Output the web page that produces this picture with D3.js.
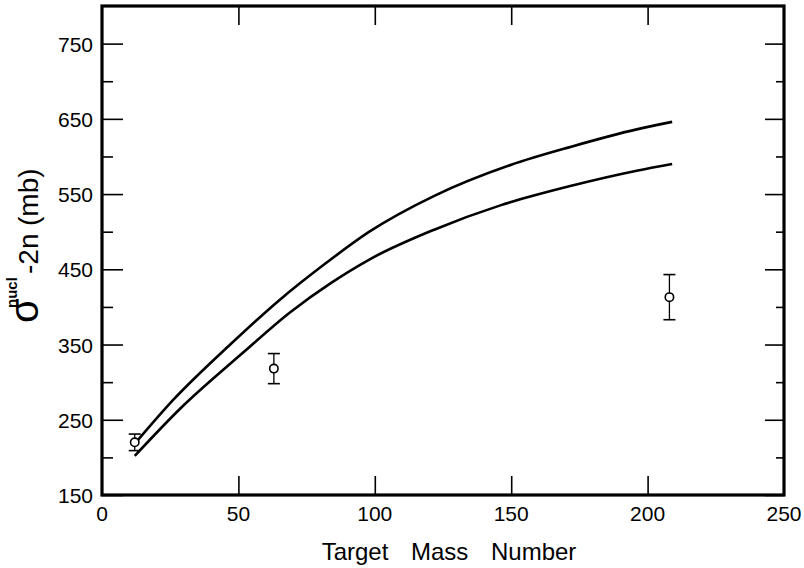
<!DOCTYPE html>
<html>
<head>
  <meta charset="utf-8">
  <title>Target Mass Number</title>
  <script src="https://d3js.org/d3.v7.min.js"></script>
  <style>
    body { margin: 0; background: white; }
    text { font-family: "Liberation Sans", Arial, sans-serif; fill: black; }
  </style>
</head>
<body>
<div id="container"></div>
<script>
  const width = 804,
    height = 568;
  const margin = { top: 6, right: 20, bottom: 72, left: 102 };

  // upper calculated curve (A, mb)
  var upperA = [12, 26, 47, 65, 82, 98, 122, 150, 172, 196, 209];
  var upperS = [218, 276, 350, 409, 458, 500, 548, 589, 613, 636, 646];
  // lower calculated curve
  var lowerA = [12, 29, 51, 69, 84, 98, 122, 146, 172, 196, 209];
  var lowerS = [202, 266, 337, 393, 432, 463, 503, 535, 561, 581, 590];
  // measured points with errors
  var measA = [12, 63, 208];
  var measS = [220, 318, 413];
  var measErr = [11, 20, 30];

  var xTicks = [0, 50, 100, 150, 200, 250];
  var yTicks = [150, 250, 350, 450, 550, 650, 750];
  var yMinor = [200, 300, 400, 500, 600, 700];

  var svg = d3.select("#container")
    .append("svg")
    .attr("width", width)
    .attr("height", height)
    .style("display", "block");

  var x = d3.scaleLinear()
    .domain([0, 250])
    .range([margin.left, width - margin.right]);

  var y = d3.scaleLinear()
    .domain([150, 800])
    .range([height - margin.bottom - 1, margin.top]);

  // ticks pointing inward
  svg.append("g")
    .attr("transform", "translate(" + x(0) + ",0)")
    .call(d3.axisRight(y).tickValues(yTicks).tickSize(21).tickFormat(""))
    .call(g => g.select(".domain").remove());
  svg.append("g")
    .attr("transform", "translate(" + x(0) + ",0)")
    .call(d3.axisRight(y).tickValues(yMinor).tickSize(11).tickFormat(""))
    .call(g => g.select(".domain").remove());
  svg.append("g")
    .attr("transform", "translate(" + x(250) + ",0)")
    .call(d3.axisLeft(y).tickValues(yTicks).tickSize(19).tickFormat(""))
    .call(g => g.select(".domain").remove());
  svg.append("g")
    .attr("transform", "translate(" + x(250) + ",0)")
    .call(d3.axisLeft(y).tickValues(yMinor).tickSize(8).tickFormat(""))
    .call(g => g.select(".domain").remove());
  svg.append("g")
    .attr("transform", "translate(0," + y(150) + ")")
    .call(d3.axisTop(x).tickValues([50, 100, 150, 200]).tickSize(19).tickFormat(""))
    .call(g => g.select(".domain").remove());
  svg.append("g")
    .attr("transform", "translate(0," + y(800) + ")")
    .call(d3.axisBottom(x).tickValues([50, 100, 150, 200]).tickSize(19).tickFormat(""))
    .call(g => g.select(".domain").remove());
  svg.selectAll(".tick line").attr("stroke", "black").attr("stroke-width", 1.6);

  // frame
  svg.append("rect")
    .attr("x", x(0))
    .attr("y", y(800))
    .attr("width", x(250) - x(0))
    .attr("height", y(150) - y(800))
    .attr("fill", "none")
    .attr("stroke", "black")
    .attr("stroke-width", 3.2);

  // tick labels
  svg.selectAll(".ylab")
    .data(yTicks)
    .enter()
    .append("text")
    .attr("class", "ylab")
    .attr("x", x(0) - 9)
    .attr("y", d => y(d) + 8)
    .attr("text-anchor", "end")
    .style("font-size", "21px")
    .text(d => d);

  svg.selectAll(".xlab")
    .data(xTicks)
    .enter()
    .append("text")
    .attr("class", "xlab")
    .attr("x", d => x(d))
    .attr("y", 521)
    .attr("text-anchor", "middle")
    .style("font-size", "21px")
    .text(d => d);

  // axis titles
  svg.append("text")
    .attr("x", 449)
    .attr("y", 560)
    .attr("text-anchor", "middle")
    .style("font-size", "24px")
    .style("word-spacing", "16px")
    .text("Target Mass Number");

  var yt = svg.append("text")
    .attr("transform", "translate(38,323) rotate(-90)")
    .style("font-size", "28px");
  yt.append("tspan").attr("x", 0).style("font-size", "40px").text("σ");
  yt.append("tspan").attr("x", 15).attr("dy", -21)
    .style("font-size", "15px").style("font-weight", "bold").text("nucl");
  yt.append("tspan").attr("x", 49).attr("dy", 21).text("-2n");
  yt.append("tspan").attr("x", 97).text("(mb)");

  // curves
  var line = d3.line()
    .x(d => x(d[0]))
    .y(d => y(d[1]))
    .curve(d3.curveMonotoneX);

  svg.append("path")
    .datum(upperA.map((a, i) => [a, upperS[i]]))
    .attr("d", line)
    .attr("fill", "none")
    .attr("stroke", "black")
    .attr("stroke-width", 2.6);

  svg.append("path")
    .datum(lowerA.map((a, i) => [a, lowerS[i]]))
    .attr("d", line)
    .attr("fill", "none")
    .attr("stroke", "black")
    .attr("stroke-width", 2.6);

  // data points with error bars
  var pts = measA.map((a, i) => ({ a: a, s: measS[i], e: measErr[i] }));
  var pg = svg.selectAll(".pt")
    .data(pts)
    .enter()
    .append("g")
    .attr("class", "pt");

  pg.append("line")
    .attr("x1", d => x(d.a)).attr("x2", d => x(d.a))
    .attr("y1", d => y(d.s + d.e)).attr("y2", d => y(d.s - d.e))
    .attr("stroke", "black").attr("stroke-width", 1.3);
  pg.append("line")
    .attr("x1", d => x(d.a) - 6).attr("x2", d => x(d.a) + 6)
    .attr("y1", d => y(d.s + d.e)).attr("y2", d => y(d.s + d.e))
    .attr("stroke", "black").attr("stroke-width", 1.6);
  pg.append("line")
    .attr("x1", d => x(d.a) - 6).attr("x2", d => x(d.a) + 6)
    .attr("y1", d => y(d.s - d.e)).attr("y2", d => y(d.s - d.e))
    .attr("stroke", "black").attr("stroke-width", 1.6);
  pg.append("circle")
    .attr("cx", d => x(d.a))
    .attr("cy", d => y(d.s))
    .attr("r", 4.2)
    .attr("fill", "white")
    .attr("stroke", "black")
    .attr("stroke-width", 1.6);
</script>
</body>
</html>
